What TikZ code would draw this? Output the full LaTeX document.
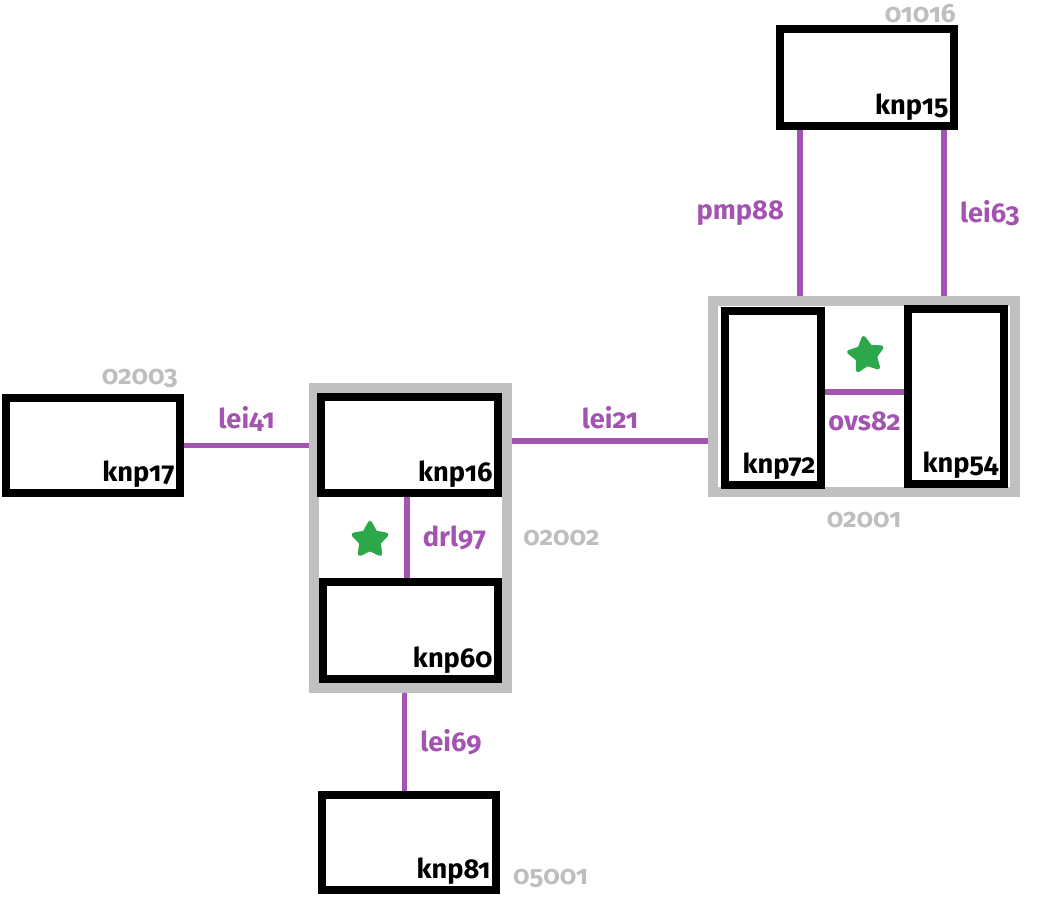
\documentclass[tikz,border=0pt]{standalone}
\usepackage{fontspec}
\setmainfont{Fira Sans}[Numbers=OldStyle]
\usetikzlibrary{shapes.geometric,calc}

\definecolor{linkpurple}{RGB}{163,84,176}
\definecolor{zonegrey}{RGB}{192,192,192}
\definecolor{codegrey}{RGB}{190,190,190}
\definecolor{okgreen}{RGB}{44,168,74}
\newcommand{\pxu}{0.02cm}

\tikzset{
  knp/.style={rectangle, draw=black, fill=white, line width=4.5pt, inner sep=0pt},
  zone/.style={rectangle, draw=zonegrey, line width=5.6pt, inner sep=0pt},
  link/.style={draw=linkpurple, line width=3.4pt},
  knptag/.style={font=\fontsize{15.5}{18}\selectfont\bfseries, inner sep=5.2pt},
  linktag/.style={text=linkpurple, font=\fontsize{15.5}{18}\selectfont\bfseries},
  codetag/.style={text=codegrey, font=\fontsize{15}{18}\selectfont\bfseries},
  okstar/.style={star, star points=5, star point ratio=1.9, fill=okgreen, draw=okgreen,
    line width=2.5pt, line join=round, minimum size=34*\pxu, inner sep=0pt}
}

\begin{document}
\begin{tikzpicture}[x=\pxu,y=-\pxu]
\useasboundingbox (0,0) rectangle (1050,900);
% grey zones
\node[zone, minimum width=193*\pxu, minimum height=300*\pxu] (z02002) at (410.5,538) {};
\node[zone, minimum width=302*\pxu, minimum height=191*\pxu] (z02001) at (864,396.5) {};
% boxes
\node[knp, minimum width=174*\pxu, minimum height=95*\pxu,
  label={[knptag,anchor=south east]south east:knp17}] (knp17) at (93,445.5) {};
\node[knp, minimum width=177*\pxu, minimum height=96*\pxu,
  label={[knptag,anchor=south east]south east:knp16}] (knp16) at (409.5,445) {};
\node[knp, minimum width=175*\pxu, minimum height=97*\pxu,
  label={[knptag,anchor=south east]south east:knp60}] (knp60) at (410.5,630.5) {};
\node[knp, minimum width=174*\pxu, minimum height=95*\pxu,
  label={[knptag,anchor=south east]south east:knp81}] (knp81) at (409,842.5) {};
\node[knp, minimum width=96*\pxu, minimum height=174*\pxu,
  label={[knptag,anchor=south east]south east:knp72}] (knp72) at (773,398) {};
\node[knp, minimum width=96*\pxu, minimum height=175*\pxu,
  label={[knptag,anchor=south east]south east:knp54}] (knp54) at (956,396.5) {};
\node[knp, minimum width=174*\pxu, minimum height=97*\pxu,
  label={[knptag,anchor=south east]south east:knp15}] (knp15) at (867,77.5) {};
% links
\draw[link] (knp17.east) -- (knp17.east -| z02002.west) node[linktag, midway, above=3pt] {lei41};
\draw[link] ($(knp16.east -| z02002.east)+(0,-4)$) -- ($(knp16.east -| z02001.west)+(0,-4)$)
  node[linktag, midway, above=2pt] {lei21};
\draw[link] ($(knp16.south)+(-2.5,0)$) -- ($(knp16.south |- knp60.north)+(-2.5,0)$)
  node[linktag, midway, right=4pt] {drl97};
\draw[link] ($(z02002.south)+(-6,0)$) -- ($(z02002.south |- knp81.north)+(-6,0)$)
  node[linktag, midway, right=4pt] {lei69};
\draw[link] ($(knp72.east)+(0,-6)$) -- ($(knp72.east -| knp54.west)+(0,-6)$)
  node[linktag, midway, below=6pt] {ovs82};
\coordinate (pmpTop) at ($(knp15.south west)!0.13!(knp15.south east)$);
\coordinate (leiTop) at ($(knp15.south west)!0.925!(knp15.south east)$);
\draw[link] (pmpTop) -- (pmpTop |- z02001.north) node[linktag, midway, left=4pt] {pmp88};
\draw[link] (leiTop) -- (leiTop |- z02001.north) node[linktag, midway, right=4pt] {lei63};
% codes
\node[codetag, anchor=south east] (c02003) at (knp17.north east) {02003};
\node[codetag, anchor=west, xshift=3pt] (c02002) at (z02002.east) {02002};
\node[codetag, anchor=north, yshift=-5pt] (c02001) at (z02001.south) {02001};
\node[codetag, anchor=south east, inner sep=1pt] (c01016) at (knp15.north east) {01016};
\node[codetag, anchor=south west, xshift=4pt] (c05001) at (knp81.south east) {05001};
% stars
\node[okstar] (s02002) at (370,540) {};
\node[okstar, rotate=8] (s02001) at (866,355) {};
\end{tikzpicture}
\end{document}
